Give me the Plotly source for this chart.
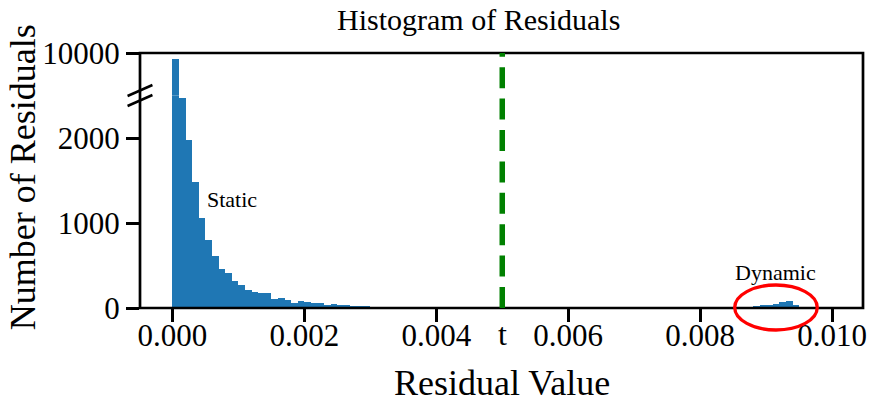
import plotly.graph_objects as go

# ---------------- data ----------------
bin_width = 0.0001
bin_start = 0.0
counts = [
    8940, 2480, 1984, 1486, 1060, 808, 615, 465, 422, 320,
    271, 222, 200, 182, 178, 114, 129, 102, 67, 86,
    82, 59, 63, 47, 55, 43, 39, 24, 35, 31,
    16, 15, 15, 14, 5, 5, 15, 14, 4, 3,
    3, 8, 8, 3, 2, 5, 3, 5, 3, 3,
    2, 5, 2, 2, 1, 15, 14, 2, 1, 1,
    1, 1, 1, 1, 5, 1, 0, 0, 0, 0,
    0, 0, 0, 0, 0, 0, 0, 0, 0, 0,
    0, 0, 0, 0, 1, 1, 2, 20, 25, 40,
    47, 55, 82, 94, 43,
]
bin_centers = [bin_start + (i + 0.5) * bin_width for i in range(len(counts))]

threshold = 0.005
x_ticks = [0.0, 0.002, 0.004, 0.006, 0.008, 0.010]
x_ticklabels = ["0.000", "0.002", "0.004", "0.006", "0.008", "0.010"]
y_low_ticks = [0, 1000, 2000]
y_high_ticks = [10000]
y_break = 2500
y_top = 10000

title = "Histogram of Residuals"
x_label = "Residual Value"
y_label = "Number of Residuals"
static_label = ("Static", 0.0009, 1282)
dynamic_label = ("Dynamic", 0.00914, 412)

# ---------------- style ----------------
FONT = "Liberation Serif"
BLUE = "#1f77b4"
W, H = 871, 403
L, R, T, B = 140, 4, 53, 95
PW, PH = W - L - R, H - T - B
split = 212.5 / PH  # fraction of plot height given to the lower axis


def px_x(px):  # window pixel -> paper x
    return (px - L) / PW


def px_y(py):  # window pixel -> paper y
    return (T + PH - py) / PH


fig = go.Figure()
for ya in ("y", "y2"):
    fig.add_trace(go.Bar(
        x=bin_centers, y=counts, width=bin_width,
        marker=dict(color=BLUE, line=dict(width=0)),
        xaxis="x", yaxis=ya, showlegend=False, hoverinfo="x+y",
    ))

tickfont = dict(family=FONT, size=31, color="black")
common_y = dict(ticks="outside", ticklen=13, tickwidth=2.5, tickcolor="black",
                showgrid=False, zeroline=False, showline=False, tickfont=tickfont)

fig.update_layout(
    width=W, height=H,
    margin=dict(l=L, r=R, t=T, b=B),
    paper_bgcolor="white", plot_bgcolor="white",
    bargap=0,
    xaxis=dict(range=[-0.00049, 0.010467], tickvals=x_ticks, ticktext=x_ticklabels,
               ticks="outside", ticklen=13, tickwidth=2.5, tickcolor="black",
               showgrid=False, zeroline=False, showline=False, tickfont=tickfont,
               ticklabelstandoff=-13, anchor="y"),
    yaxis=dict(domain=[0, split], range=[0, y_break], tickvals=y_low_ticks,
               ticktext=[str(v) for v in y_low_ticks], **common_y),
    yaxis2=dict(domain=[split, 1], range=[y_break, y_top], tickvals=y_high_ticks,
                ticktext=[str(v) for v in y_high_ticks], anchor="x", **common_y),
    font=dict(family=FONT, color="black"),
)

shapes = []
# frame
shapes.append(dict(type="rect", xref="paper", yref="paper", x0=0, x1=1, y0=0, y1=1,
                   line=dict(color="black", width=2.7), layer="above"))
# threshold line
shapes.append(dict(type="line", xref="x", yref="paper", x0=threshold, x1=threshold,
                   y0=0, y1=1, line=dict(color="#008000", width=5.5, dash="21px,10.4px"),
                   layer="above"))
# break marks
for off in (-5, 5):
    yc = split + (-off) / PH
    shapes.append(dict(type="line", xref="paper", yref="paper",
                       x0=-12.5 / PW, x1=12.5 / PW,
                       y0=yc - 5.5 / PH, y1=yc + 5.5 / PH,
                       line=dict(color="black", width=2.5), layer="above"))
# circle around dynamic
shapes.append(dict(type="circle", xref="paper", yref="paper",
                   x0=px_x(738), x1=px_x(821), y0=px_y(330), y1=px_y(285),
                   line=dict(color="#ff0000", width=3.3), layer="above"))
fig.update_layout(shapes=shapes)

ann = []
ann.append(dict(text=title, xref="paper", yref="paper", x=px_x(480), y=px_y(19),
                showarrow=False, xanchor="center", yanchor="middle",
                font=dict(family=FONT, size=30, color="black")))
ann.append(dict(text=x_label, xref="paper", yref="paper", x=px_x(504), y=px_y(383),
                showarrow=False, xanchor="center", yanchor="middle",
                font=dict(family=FONT, size=36, color="black")))
ann.append(dict(text=y_label, xref="paper", yref="paper", x=px_x(22), y=px_y(177.5),
                showarrow=False, xanchor="center", yanchor="middle", textangle=-90,
                font=dict(family=FONT, size=36, color="black")))
ann.append(dict(text="t", xref="x", yref="paper", x=threshold, y=px_y(334),
                showarrow=False, xanchor="center", yanchor="middle",
                font=dict(family=FONT, size=32, color="black")))
for txt, xv, yv in (static_label, dynamic_label):
    ann.append(dict(text=txt, xref="x", yref="y", x=xv, y=yv, showarrow=False,
                    xanchor="center", yanchor="middle",
                    font=dict(family=FONT, size=22, color="black")))
fig.update_layout(annotations=ann)

fig.write_html(
    "out.html",
    config={"displayModeBar": False},
    post_script="document.body.style.margin='0px';document.body.style.overflow='hidden';",
)
